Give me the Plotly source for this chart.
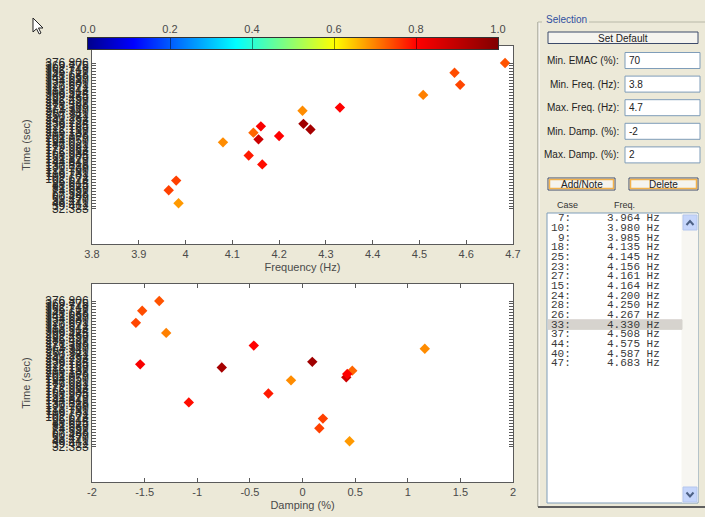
import plotly.graph_objects as go

# ---------------- data ----------------
freq = [3.964, 3.980, 3.985, 4.080, 4.135, 4.145, 4.156, 4.161, 4.164,
        4.200, 4.250, 4.252, 4.267, 4.330, 4.508, 4.575, 4.587, 4.683]
damp = [0.160, 0.194, 0.447, -0.109, -0.324, 0.473, 0.416, -1.542, -1.080,
        0.425, 1.162, 0.093, -0.767, -0.463, -1.295, -1.523, -1.583, -1.361]
times = [76.5, 99.4, 45.8, 189.6, 158.5, 212.5, 196.7, 227.4, 137.6,
         204.6, 264.1, 233.3, 220.0, 271.6, 301.5, 353.9, 325.2, 376.8]
emac = [0.75, 0.75, 0.68, 0.69, 0.78, 0.72, 0.88, 0.81, 0.79,
        0.80, 0.69, 0.95, 0.94, 0.80, 0.70, 0.74, 0.745, 0.735]

time_ticks = [32.383, 39.412, 46.441, 53.470, 60.499, 67.528, 74.557, 81.586,
              88.615, 95.644, 102.673, 109.702, 116.731, 123.760, 130.789,
              137.818, 144.847, 151.876, 158.905, 165.934, 172.963, 179.992,
              187.021, 194.050, 201.079, 208.108, 215.137, 222.166, 229.195,
              236.224, 243.253, 250.282, 257.311, 264.340, 271.369, 278.398,
              285.427, 292.456, 299.485, 306.514, 313.543, 320.572, 327.601,
              334.630, 341.659, 348.688, 355.717, 362.746, 369.775, 376.806]
time_labels = ["%.3f" % t for t in time_ticks]

freq_ticks = [3.8, 3.9, 4.0, 4.1, 4.2, 4.3, 4.4, 4.5, 4.6, 4.7]
freq_labels = ["3.8", "3.9", "4", "4.1", "4.2", "4.3", "4.4", "4.5", "4.6", "4.7"]
damp_ticks = [-2, -1.5, -1, -0.5, 0, 0.5, 1, 1.5, 2]
damp_labels = ["-2", "-1.5", "-1", "-0.5", "0", "0.5", "1", "1.5", "2"]
cbar_ticks = [0.0, 0.2, 0.4, 0.6, 0.8, 1.0]
cbar_labels = ["0.0", "0.2", "0.4", "0.6", "0.8", "1.0"]
cbar_range = [0.0, 1.0]          # EMAC colour scale limits

list_cases = [7, 10, 9, 18, 25, 23, 27, 15, 24, 28, 26, 33, 37, 44, 40, 47]
list_freqs = [3.964, 3.980, 3.985, 4.135, 4.145, 4.156, 4.161, 4.164, 4.200,
              4.250, 4.267, 4.330, 4.508, 4.575, 4.587, 4.683]
selected_case = 33

field_labels = ["Min. EMAC (%):", "Min. Freq. (Hz):", "Max. Freq. (Hz):",
                "Min. Damp. (%):", "Max. Damp. (%):"]
field_values = ["70", "3.8", "4.7", "-2", "2"]

# ---------------- layout helpers (pixel -> paper) ----------------
W, H = 705, 517
L, R, T, B = 88, 513, 38, 482


def px(x):
    return (x - L) / (R - L)


def py(y):
    return (B - y) / (B - T)


BG = "#ECE9D8"
AX = "#5a5a5a"
TXT = "#4a4a4a"
FONT = "Liberation Sans, Arial"

jet = [[0.0, "rgb(0,0,143)"], [0.11, "rgb(0,0,255)"], [0.36, "rgb(0,255,255)"],
       [0.6, "rgb(255,255,0)"], [0.8, "rgb(255,0,0)"], [1.0, "rgb(128,0,0)"]]

fig = go.Figure()
fig.add_trace(go.Scatter(x=freq, y=times, mode="markers", xaxis="x", yaxis="y",
                         marker=dict(symbol="diamond", size=8, color=emac,
                                     coloraxis="coloraxis", line=dict(width=0)),
                         showlegend=False, hoverinfo="x+y"))
fig.add_trace(go.Scatter(x=damp, y=times, mode="markers", xaxis="x2", yaxis="y2",
                         marker=dict(symbol="diamond", size=8, color=emac,
                                     coloraxis="coloraxis", line=dict(width=0)),
                         showlegend=False, hoverinfo="x+y"))
# colour bar drawn as a smoothed heat strip from the scale limits
fig.add_trace(go.Heatmap(x=cbar_range, y=[0, 1], z=[cbar_range, cbar_range],
                         zsmooth="best", coloraxis="coloraxis",
                         xaxis="x3", yaxis="y3", hoverinfo="skip"))

yrange = [-50.2, 416.9]
axcommon = dict(showgrid=False, zeroline=False, showline=True, linecolor=AX,
                linewidth=1, mirror="ticks", ticks="inside", tickcolor=AX,
                ticklen=4, automargin=False,
                tickfont=dict(family=FONT, size=11, color=TXT))
yfont = dict(family=FONT, size=12, color="#2a2a2a")
tfont = dict(family=FONT, size=11, color=TXT)

fig.update_layout(
    width=W, height=H,
    margin=dict(l=L, r=W - R, t=T, b=H - B, autoexpand=False),
    paper_bgcolor=BG, plot_bgcolor="white",
    xaxis=dict(axcommon, domain=[px(92), 1], anchor="y", range=[3.8, 4.7],
               tickmode="array", tickvals=freq_ticks, ticktext=freq_labels,
               title=dict(text="Frequency (Hz)", standoff=4, font=tfont)),
    yaxis=dict(axcommon, domain=[py(244), py(46)], anchor="x", range=yrange,
               tickmode="array", tickvals=time_ticks, ticktext=time_labels,
               tickfont=yfont,
               title=dict(text="Time (sec)", standoff=12, font=tfont)),
    xaxis2=dict(axcommon, domain=[px(92), 1], anchor="y2", range=[-2, 2],
                tickmode="array", tickvals=damp_ticks, ticktext=damp_labels,
                title=dict(text="Damping (%)", standoff=4, font=tfont)),
    yaxis2=dict(axcommon, domain=[0, py(284)], anchor="x2", range=yrange,
                tickmode="array", tickvals=time_ticks, ticktext=time_labels,
                tickfont=yfont,
                title=dict(text="Time (sec)", standoff=12, font=tfont)),
    # colour-bar axis, labels above the bar
    xaxis3=dict(domain=[0, px(498)], anchor="y3", side="top", range=cbar_range,
                showgrid=False, zeroline=False, showline=True, mirror=True,
                linecolor="#333", ticks="inside", ticklen=11, tickwidth=1,
                tickcolor="rgba(0,0,0,0.45)", layer="above traces",
                tickmode="array", tickvals=cbar_ticks, ticktext=cbar_labels,
                automargin=False, tickfont=tfont, fixedrange=True),
    yaxis3=dict(domain=[py(49), 1], anchor="x3", range=[0, 1], showline=True,
                mirror=True, linecolor="#333", showticklabels=False, ticks="",
                showgrid=False, zeroline=False, fixedrange=True),
    coloraxis=dict(cmin=cbar_range[0], cmax=cbar_range[1], colorscale=jet,
                   showscale=False),
)

shapes = []
ann = []


def rect(x0, y0, x1, y1, line="#7F9DB9", fill="white", lw=1):
    shapes.append(dict(type="rect", xref="paper", yref="paper",
                       x0=px(x0), x1=px(x1), y0=py(y1), y1=py(y0),
                       line=dict(color=line, width=lw), fillcolor=fill, layer="above"))


def line(x0, y0, x1, y1, color="#808080", lw=1):
    shapes.append(dict(type="line", xref="paper", yref="paper",
                       x0=px(x0), x1=px(x1), y0=py(y0), y1=py(y1),
                       line=dict(color=color, width=lw), layer="above"))


def text(x, y, s, anchor="left", size=10, color="#333", family=FONT):
    ann.append(dict(xref="paper", yref="paper", x=px(x), y=py(y), text=s,
                    showarrow=False, xanchor=anchor, yanchor="middle",
                    font=dict(family=family, size=size, color=color)))


# mouse cursor
cur = [(33, 18), (33, 32), (36.5, 28.8), (39.2, 34), (41, 33), (38.5, 28), (43, 28)]
path = "M " + " L ".join("%f,%f" % (px(a), py(b)) for a, b in cur) + " Z"
shapes.append(dict(type="path", xref="paper", yref="paper", path=path,
                   fillcolor="white", line=dict(color="#222", width=1), layer="above"))

# group box
line(538, 22, 538, 507, "#8a8a80")
line(539, 22, 539, 506, "#ffffff")
line(538, 507, 705, 507, "#5f5f5f", 2)
line(538, 22, 542, 22, "#b8b8a8")
line(589, 22, 705, 22, "#b8b8a8")
text(544, 20, "Selection", size=10, color="#3050a0")

# Set Default button
rect(548, 32, 698, 43.5, line="#3c4a6a", fill="#F5F4EF")
text(623, 38, "Set Default", anchor="center", size=10, color="#222")

# fields
for i, (lab, val) in enumerate(zip(field_labels, field_values)):
    yc = 60.5 + i * 23.6
    text(621, yc, lab, anchor="right", size=10, color="#222")
    rect(625, yc - 8, 700, yc + 8, line="#7F9DB9", fill="white")
    text(627, yc, val, anchor="left", size=10, color="#222")

# Add/Note and Delete buttons
for x0, x1, lab in [(548, 615, "Add/Note"), (629, 698, "Delete")]:
    rect(x0, 178, x1, 190, line="#3c4a6a", fill="#F5F4EF")
    rect(x0 + 1.5, 179.5, x1 - 1.5, 188.5, line="#F3B24C", fill="rgba(0,0,0,0)", lw=1.5)
    text((x0 + x1) / 2, 184, lab, anchor="center", size=10, color="#222")

# list headers
text(555, 205, "Case", size=9, color="#333")
text(612, 205, "Freq.", size=9, color="#333")

# list box
rect(547, 213, 698, 503, line="#7F9DB9", fill="white")
rect(682, 214, 697.5, 502, line="#F7F6F1", fill="#F7F6F1")
rect(683, 215, 697, 230, line="#B4C6EE", fill="#C6D6FB")
rect(683, 487, 697, 502, line="#B4C6EE", fill="#C6D6FB")
for pts in [[(686.5, 225), (690, 221), (693.5, 225)], [(686.5, 492.5), (690, 496.5), (693.5, 492.5)]]:
    p = "M " + " L ".join("%f,%f" % (px(a), py(b)) for a, b in pts)
    shapes.append(dict(type="path", xref="paper", yref="paper", path=p,
                       line=dict(color="#4D6185", width=2), layer="above"))

row0, dy = 218.2, 9.67
for i, (c, f) in enumerate(zip(list_cases, list_freqs)):
    yc = row0 + i * dy
    if c == selected_case:
        rect(548, yc - 4.8, 682, yc + 4.8, line="#D6D3CE", fill="#D6D3CE")
    text(573, yc, "%d:" % c, anchor="right", size=11, color="#3a3a3a",
         family="Liberation Mono, Courier New, monospace")
    text(662, yc, "%.3f Hz" % f, anchor="right", size=11, color="#3a3a3a",
         family="Liberation Mono, Courier New, monospace")

fig.update_layout(shapes=shapes, annotations=ann)
fig.write_html("out.html", config={"displayModeBar": False},
               post_script="document.body.style.margin='0';"
                           "document.body.style.background='#ECE9D8';")
